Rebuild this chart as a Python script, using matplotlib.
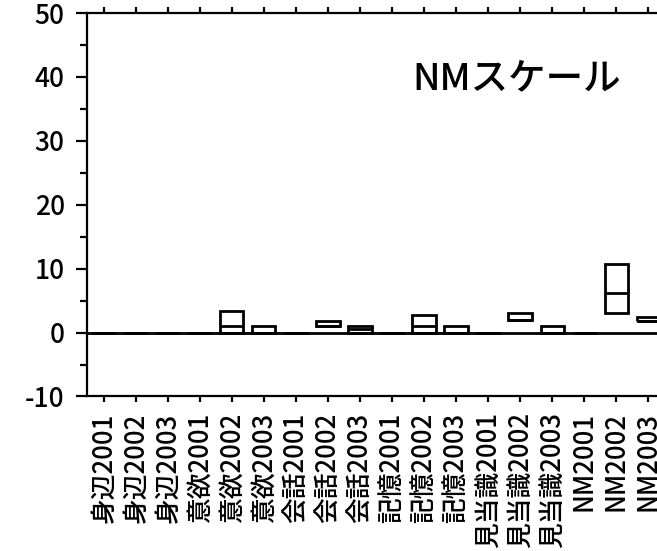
import numpy as np
import matplotlib
matplotlib.use("Agg")
import matplotlib.pyplot as plt
from matplotlib.ticker import MultipleLocator

plt.rcParams['font.family'] = ['Noto Sans CJK JP', 'DejaVu Sans']
plt.rcParams['axes.unicode_minus'] = False

# 項目名（領域 x 年度）
labels = ["身辺2001", "身辺2002", "身辺2003",
          "意欲2001", "意欲2002", "意欲2003",
          "会話2001", "会話2002", "会話2003",
          "記憶2001", "記憶2002", "記憶2003",
          "見当識2001", "見当識2002", "見当識2003",
          "NM2001", "NM2002", "NM2003"]

# 箱の下端(25%)・中央値・上端(75%)
q1  = [0, 0, 0, 0, 0,   0, 0, 1,   0,   0, 0,   0, 0, 2, 0, 0, 3,     1.75]
med = [0, 0, 0, 0, 1,   0, 0, 1,   0.5, 0, 1,   0, 0, 2, 0, 0, 6.25,  1.75]
q3  = [0, 0, 0, 0, 3.4, 1, 0, 1.8, 1,   0, 2.7, 1, 0, 3, 1, 0, 10.75, 2.5]

yticks = [-10, 0, 10, 20, 30, 40, 50]

fig = plt.figure(figsize=(6.57, 5.51), dpi=100)
ax = fig.add_axes([0.1324, 0.2804, 0.8676, 0.696])

x = np.arange(len(labels))
q1 = np.array(q1)
q3 = np.array(q3)

ax.axhline(0, color="black", lw=2.0, zorder=1)
ax.bar(x, q3 - q1, bottom=q1, width=0.72, fill=False,
       edgecolor="black", linewidth=2.0, zorder=2)
ax.hlines(med, x - 0.36, x + 0.36, color="black", lw=2.0, zorder=3)

ax.set_xlim(-0.53, 17.28)
ax.set_ylim(-10, 50)
ax.set_yticks(yticks)
ax.yaxis.set_minor_locator(MultipleLocator(5))
ax.set_xticks(x)
ax.set_xticklabels(labels, rotation=90, fontsize=18.5, fontweight="medium")

for t in ax.get_yticklabels():
    t.set_fontsize(19)
    t.set_fontweight("medium")

ax.tick_params(axis="y", which="major", direction="out", length=8, width=1.6, pad=8)
ax.tick_params(axis="y", which="minor", direction="out", length=5, width=1.6)
ax.tick_params(axis="x", direction="out", length=4.5, width=1.6, pad=7,
               top=True, bottom=True, labeltop=False)

ax.spines["right"].set_visible(False)
for s in ("left", "top", "bottom"):
    ax.spines[s].set_linewidth(1.6)

ax.text(0.57, 0.83, "NMスケール", transform=ax.transAxes,
        ha="left", va="center", fontsize=27, fontweight="medium")

fig.savefig("out.png", dpi=100)
